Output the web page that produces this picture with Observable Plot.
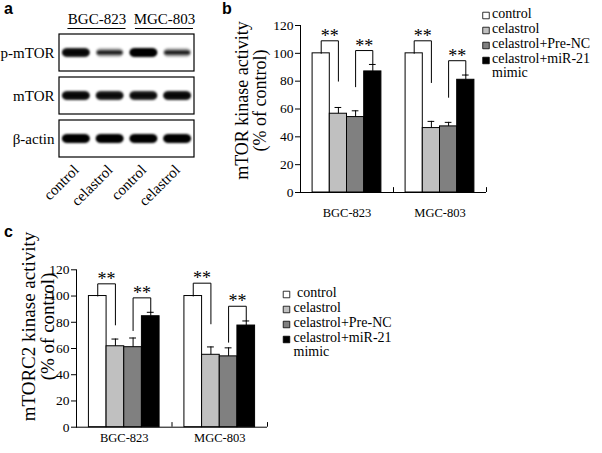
<!DOCTYPE html>
<html><head><meta charset="utf-8">
<script src="https://cdn.jsdelivr.net/npm/d3@7"></script>
<script src="https://cdn.jsdelivr.net/npm/@observablehq/plot@0.6"></script>
<style>
body{margin:0;background:#fff}
#fig{position:relative;width:602px;height:453px;overflow:hidden;background:#fff}
#fig > *{position:absolute}
.lbl{font:bold 16px "Liberation Sans",Arial,sans-serif;color:#000;line-height:1}
</style></head><body><div id="fig"></div>
<script>
// ---- Panel a: western blot ----
const lanes = ["control","celastrol","control","celastrol"];
const cellLines = ["BGC-823","MGC-803"];
const proteins = ["p-mTOR","mTOR","β-actin"];
const pmtorBand = [0.95,0.55,1.0,0.55];
const mtorBand = [0.95,0.92,0.92,0.95];
const actinBand = [1,1,1,1];

// ---- Panels b, c ----
const groups = ["BGC-823","MGC-803"];
const series = ["control","celastrol","celastrol+Pre-NC","celastrol+miR-21 mimic"];
const seriesColors = ["#ffffff","#c0c0c0","#808080","#000000"];
const legendLabelsB = ["control","celastrol","celastrol+Pre-NC","celastrol+miR-21\nmimic"];
const legendLabelsC = ["\u00a0control","celastrol","celastrol+Pre-NC","celastrol+miR-21\nmimic"];
const yTicks = [0,20,40,60,80,100,120];

const mtorBGC = [100,56.6,54.2,87.0];
const mtorMGC = [100,46.3,47.5,81.0];
const mtorErrBGC = [0,4.5,4.5,5.0];
const mtorErrMGC = [0,4.8,2.9,3.4];
const mtorc2BGC = [100,61.7,61.0,84.6];
const mtorc2MGC = [100,55.2,54.0,77.5];
const mtorc2ErrBGC = [0,5.5,7.0,3.0];
const mtorc2ErrMGC = [0,6.0,6.5,3.5];
// significance brackets: [group, from series, to series, left end, top, right end]
const mtorSig = [[0,0,1,100,109,80],[0,2,3,76,102,92],[1,0,1,100,109,79],[1,2,3,68.4,94.7,84.4]];
const mtorc2Sig = [[0,0,1,100,109.3,78],[0,2,3,73.7,98.6,87.6],[1,0,1,100,109.8,78.8],[1,2,3,64.8,92.2,81]];

const SERIF = '"Liberation Serif","Times New Roman",serif';
const fig = document.getElementById("fig");
function place(el, left, top){ el.style.left = left+"px"; el.style.top = top+"px"; fig.append(el); return el; }
function letter(t, left, top){ const d=document.createElement("div"); d.className="lbl"; d.textContent=t; place(d,left,top); }

// Blot
const bands = [];
[pmtorBand, mtorBand, actinBand].forEach((arr, pi) => arr.forEach((v, li) => bands.push({p: proteins[pi], li, v})));
const blot = Plot.plot({
  width: 202, height: 212, marginLeft: 59, marginRight: 8, marginTop: 33, marginBottom: 54,
  style: {fontFamily: SERIF, fontSize: "15px", background: "transparent", overflow: "visible", color: "black"},
  x: {domain: [0, lanes.length], ticks: lanes.map((d,i)=>i+0.5), tickFormat: v => lanes[Math.floor(v)], tickRotate: -45, tickSize: 0, tickPadding: 9, label: null},
  y: {type: "band", domain: proteins, paddingInner: 0.15, paddingOuter: 0, tickSize: 0, tickPadding: 5, label: null},
  marks: [
    Plot.barX(proteins, {x1: 0, x2: lanes.length, y: d=>d, fill:"white", stroke:"black", strokeWidth: 1.2}),
    Plot.barX(bands, {x1: d=>d.li+0.09, x2: d=>d.li+0.91, y:"p", fill:"black", fillOpacity: d => d.v*d.v, insetTop: 14, insetBottom: 14, rx: 5}),
    Plot.barX(bands, {x1: d=>d.li+0.12, x2: d=>d.li+0.88, y:"p", fill:"black", fillOpacity: 0.85, insetTop: 16.5, insetBottom: 16.5, rx: 3})
  ]
});
{
  const ns = "http://www.w3.org/2000/svg";
  const defs = document.createElementNS(ns,"defs");
  const f = document.createElementNS(ns,"filter"); f.setAttribute("id","blotblur");
  f.setAttribute("x","-20%"); f.setAttribute("y","-60%"); f.setAttribute("width","140%"); f.setAttribute("height","220%");
  const g = document.createElementNS(ns,"feGaussianBlur"); g.setAttribute("stdDeviation","1.3");
  f.append(g); defs.append(f); blot.prepend(defs);
  const bars = blot.querySelectorAll('g[aria-label="bar"]');
  bars[bars.length-1].setAttribute("filter","url(#blotblur)");
  bars[bars.length-2].setAttribute("filter","url(#blotblur)");
}
place(blot, 0, 0);

const perLine = lanes.length / cellLines.length;
const header = Plot.plot({
  width: 202, height: 33, marginLeft: 59, marginRight: 8, marginTop: 0, marginBottom: 5,
  style: {fontFamily: SERIF, fontSize: "15px", background: "transparent", overflow: "visible", color: "black"},
  x: {domain: [0, lanes.length], axis: null},
  y: {domain: [0, 1], axis: null},
  marks: [
    Plot.ruleY(cellLines, {y: () => 0, x1: (d,i)=>perLine*i+0.25, x2: (d,i)=>perLine*(i+1)-0.03, strokeWidth: 1}),
    Plot.text(cellLines, {x: (d,i)=>perLine*i+1.11, y: () => 0, text: d=>d, lineAnchor: "bottom", dy: -5, fontSize: 15})
  ]
});
place(header, 0, 0);

// Bar panels
const BAR0 = 0.13, BARW = 0.185, CAP = 0.036;
function barPanel(o) {
  const rows = [];
  o.means.forEach((arr, gi) => arr.forEach((v, si) => rows.push({gi, si, v, e: o.errs[gi][si]})));
  const xa = (gi, si) => gi + BAR0 + si*BARW;
  const xm = (gi, si) => xa(gi, si) + BARW/2;
  const brk = o.sig.flatMap(([g,a,b,l,t,r], i) => [
    {i, x: xm(g,a), y: l}, {i, x: xm(g,a), y: t}, {i, x: xm(g,b), y: t}, {i, x: xm(g,b), y: r}]);
  const errRows = rows.filter(d => d.e > 0);
  return Plot.plot({
    width: o.width, height: o.height,
    marginLeft: o.ml, marginRight: o.mr, marginTop: o.mt, marginBottom: o.mb,
    style: {fontFamily: SERIF, fontSize: "13.5px", background: "transparent", overflow: "visible", color: "black"},
    x: {domain: [0, groups.length], axis: null},
    y: {domain: [0, 120], ticks: yTicks, tickSize: 5, tickPadding: 2, line: true, label: null},
    marks: [
      Plot.rectY(rows, {x1: d => xa(d.gi,d.si), x2: d => xa(d.gi,d.si)+BARW, y1: 0, y2: "v", fill: d => seriesColors[d.si], stroke: "black", strokeWidth: 1}),
      Plot.ruleX(errRows, {x: d => xm(d.gi,d.si), y1: "v", y2: d => d.v+d.e, stroke: "black"}),
      Plot.ruleY(errRows, {y: d => d.v+d.e, x1: d => xm(d.gi,d.si)-CAP, x2: d => xm(d.gi,d.si)+CAP, stroke: "black"}),
      Plot.ruleY([0]),
      Plot.ruleX(d3.range(1, groups.length+1), {y1: 0, y2: 3.5}),
      Plot.line(brk, {x: "x", y: "y", z: "i", stroke: "black", strokeWidth: 1}),
      Plot.text(o.sig, {x: d => (xm(d[0],d[1])+xm(d[0],d[2]))/2, y: d => d[4], text: () => "**", fontSize: 18, lineAnchor: "bottom", dy: 1}),
      Plot.text(groups, {x: (d,i) => i+0.5, y: () => 0, text: d => d, fontSize: 12.5, lineAnchor: "bottom", dy: o.labelGap}),
      Plot.text([o.title], {frameAnchor: "left", text: d => d, rotate: -90, textAnchor: "middle", lineAnchor: "middle", fontSize: o.titleSize, lineHeight: 1, dx: o.tdx, dy: o.tdy})
    ]
  });
}
function legendPlot(labels, o) {
  return Plot.plot({
    width: o.width, height: o.height, margin: 0,
    style: {fontFamily: SERIF, fontSize: "14px", background: "transparent", overflow: "visible", color: "black"},
    y: {type: "point", domain: series, range: o.range, padding: 0, axis: null},
    marks: [
      Plot.dot(series, {y: d => d, frameAnchor: "left", dx: o.sq, symbol: "square", r: 3.7, fill: (d,i) => seriesColors[i], stroke: "black", strokeWidth: 0.8}),
      Plot.text(series, {y: d => d, frameAnchor: "left", dx: o.tx, text: (d,i) => labels[i], textAnchor: "start", lineAnchor: "top", dy: -7, fontSize: 14, lineHeight: 1})
    ]
  });
}

const pb = barPanel({means: [mtorBGC, mtorMGC], errs: [mtorErrBGC, mtorErrMGC], sig: mtorSig,
  width: 290, height: 230, ml: 90, mr: 14, mt: 25, mb: 38, labelGap: 24,
  title: "mTOR kinase activity\n(% of control)", titleSize: 18, tdx: -49, tdy: -8.5});
place(pb, 210, 0);
place(legendPlot(legendLabelsB, {width: 126, height: 90, range: [14.5, 61], sq: 9.5, tx: 15.5}), 476, 0);

const pc = barPanel({means: [mtorc2BGC, mtorc2MGC], errs: [mtorc2ErrBGC, mtorc2ErrMGC], sig: mtorc2Sig,
  width: 280, height: 228, ml: 76, mr: 13, mt: 44.3, mb: 26.3, labelGap: 15,
  title: "mTORC2 kinase activity\n(% of control)", titleSize: 19, tdx: -38.5, tdy: -22});
place(pc, 0, 225);
place(legendPlot(legendLabelsC, {width: 130, height: 100, range: [23, 69], sq: 10, tx: 17}), 276, 270);

letter("a", 4, 1);
letter("b", 222, 1);
letter("c", 4, 224);
</script></body></html>
